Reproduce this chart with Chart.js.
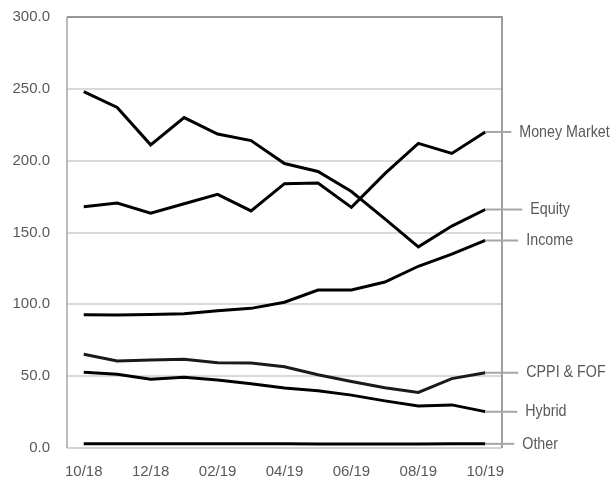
<!DOCTYPE html>
<html>
<head>
<meta charset="utf-8">
<script src="https://cdn.jsdelivr.net/npm/chart.js@4"></script>
<style>
  body { margin: 0; background: #fff; }
</style>
</head>
<body>
<canvas id="chart" width="616" height="483"></canvas>
<script>
const months = ['10/18', '11/18', '12/18', '01/19', '02/19', '03/19', '04/19', '05/19', '06/19', '07/19', '08/19', '09/19', '10/19'];
const yTicks = [0, 50, 100, 150, 200, 250, 300];

const moneyMarket = [168, 170.5, 163.5, 170, 176.5, 165, 184, 184.5, 167.5, 191, 212, 205, 220];
const equity = [248, 237, 211, 230, 218.5, 214, 198, 192.5, 178.5, 159.5, 140, 154.5, 166];
const income = [92.8, 92.5, 93, 93.5, 95.5, 97.2, 101.5, 110, 110, 115.5, 126.5, 135, 144.5];
const cppiFof = [65.3, 60.5, 61.2, 61.8, 59.4, 59.1, 56.5, 51, 46.3, 42, 38.7, 48.3, 52.4];
const hybrid = [52.8, 51.3, 47.8, 49.2, 47.3, 44.7, 41.8, 39.8, 36.8, 32.8, 29.3, 30, 25.3];
const other = [2.9, 2.9, 2.9, 3, 3, 3, 2.9, 2.8, 2.8, 2.8, 2.8, 2.9, 2.9];

const seriesNames = ['Money Market', 'Equity', 'Income', 'CPPI & FOF', 'Hybrid', 'Other'];
const seriesData = [moneyMarket, equity, income, cppiFof, hybrid, other];

const FONT = "'Liberation Sans', Arial, sans-serif";
const TEXT = '#595959';

// leader line length before the text, per label (Excel-ish placement)
const leaderLen = [26, 37, 33, 33, 32, 29];

const frame = {
  id: 'frame',
  beforeDatasetsDraw(chart) {
    const { ctx, chartArea: a } = chart;
    ctx.save();
    ctx.lineWidth = 1.5;
    ctx.strokeStyle = '#d0d0d0';
    ctx.beginPath();
    ctx.moveTo(a.left, a.bottom);
    ctx.lineTo(a.right, a.bottom);
    ctx.stroke();
    ctx.strokeStyle = '#a6a6a6';
    ctx.beginPath();
    ctx.moveTo(a.left, a.top);
    ctx.lineTo(a.left, a.bottom);
    ctx.stroke();
    ctx.strokeStyle = '#808080';
    ctx.beginPath();
    ctx.moveTo(a.left, a.top);
    ctx.lineTo(a.right, a.top);
    ctx.lineTo(a.right, a.bottom);
    ctx.stroke();
    ctx.restore();
  }
};

// condensed-looking text: no narrow face installed, so squeeze horizontally
function narrowText(ctx, txt, x, y) {
  ctx.save();
  ctx.translate(x, y);
  ctx.scale(0.84, 1);
  ctx.fillText(txt, 0, 0);
  ctx.restore();
}

const endLabels = {
  id: 'endLabels',
  afterDatasetsDraw(chart) {
    const { ctx } = chart;
    ctx.save();
    ctx.font = '17px ' + FONT;
    ctx.textBaseline = 'middle';
    ctx.textAlign = 'left';
    chart.data.datasets.forEach((ds, i) => {
      const meta = chart.getDatasetMeta(i);
      const pt = meta.data[meta.data.length - 1];
      const x2 = pt.x + leaderLen[i];
      ctx.strokeStyle = '#a6a6a6';
      ctx.lineWidth = 2;
      ctx.beginPath();
      ctx.moveTo(pt.x, pt.y);
      ctx.lineTo(x2, pt.y);
      ctx.stroke();
      ctx.fillStyle = TEXT;
      narrowText(ctx, ds.label, x2 + 8, pt.y);
    });
    ctx.restore();
  }
};

new Chart(document.getElementById('chart'), {
  type: 'line',
  data: {
    labels: months,
    datasets: seriesNames.map((name, i) => ({
      label: name,
      data: seriesData[i],
      borderColor: i === 3 ? '#1a1a1a' : '#000',
      borderWidth: 3,
      pointRadius: 0,
      tension: 0,
      fill: false
    }))
  },
  options: {
    responsive: false,
    animation: false,
    layout: { padding: { top: 17, right: 114, left: 0, bottom: 0 } },
    plugins: {
      legend: { display: false },
      tooltip: { enabled: false }
    },
    scales: {
      x: {
        offset: true,
        grid: { display: false },
        border: { display: false },
        afterFit: s => { s.height = 35; s.paddingLeft = 0; s.paddingRight = 0; },
        ticks: {
          autoSkip: false,
          maxRotation: 0,
          padding: 7,
          color: TEXT,
          font: { family: FONT, size: 15 },
          callback: (v, i) => (i % 2 === 0 ? months[i] : '')
        }
      },
      y: {
        min: 0,
        max: 300,
        afterFit: s => { s.width = 67; s.paddingTop = 0; s.paddingBottom = 0; },
        afterBuildTicks: s => { s.ticks = yTicks.map(v => ({ value: v })); },
        grid: { color: '#d9d9d9', lineWidth: 2, drawTicks: false },
        border: { display: false },
        ticks: {
          padding: 17,
          color: TEXT,
          font: { family: FONT, size: 15 },
          callback: v => v.toFixed(1)
        }
      }
    }
  },
  plugins: [frame, endLabels]
});
</script>
</body>
</html>
